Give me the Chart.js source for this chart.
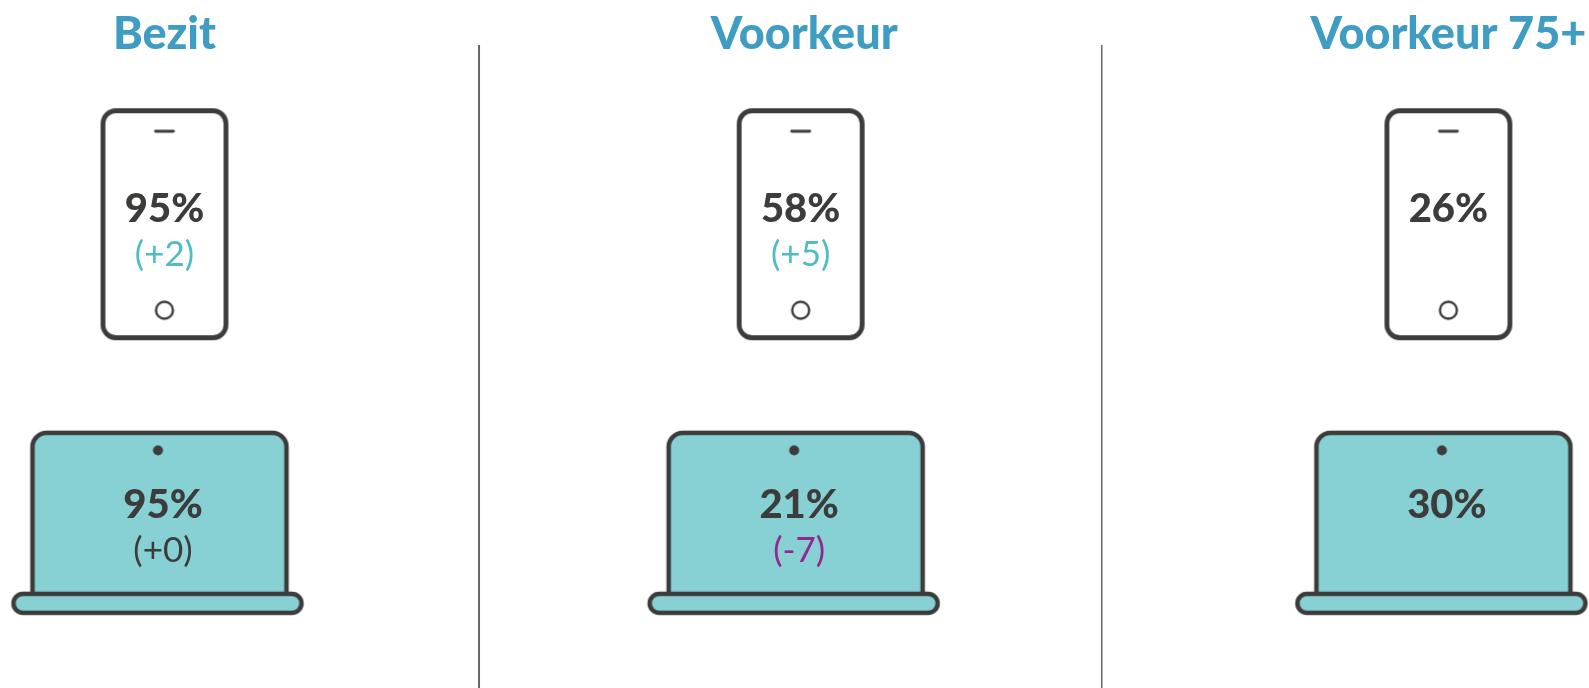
<!DOCTYPE html>
<html>
<head>
<meta charset="utf-8">
<title>Bezit en voorkeur</title>
<style>
    html, body { margin: 0; padding: 0; background: #fff; }
    canvas { display: block; }
</style>
<script src="https://cdn.jsdelivr.net/npm/chart.js@4/dist/chart.umd.min.js"></script>
</head>
<body>
<canvas id="chart" width="1589" height="688"></canvas>
<script>
// Data
var panels = ['Bezit', 'Voorkeur', 'Voorkeur 75+'];
var devices = ['Smartphone', 'Laptop'];
var phoneValues = [95, 58, 26];
var laptopValues = [95, 21, 30];
var phoneChanges = [2, 5, null];
var laptopChanges = [0, -7, null];
var dividerPanels = [0.49, 1.46];

var DARK = '#3c3c3b';
var TEAL_FILL = '#87d1d5';
var FONT = 'Lato, sans-serif';

function changeColor(v) {
    if (v > 0) return '#4dbdc3';
    if (v < 0) return '#93278f';
    return DARK;
}

function changeText(v) {
    return '(' + (v < 0 ? '-' : '+') + Math.abs(v) + ')';
}

function roundRect(ctx, x, y, w, h, r, fill) {
    ctx.beginPath();
    ctx.roundRect(x, y, w, h, r);
    if (fill) { ctx.fillStyle = fill; ctx.fill(); }
    ctx.stroke();
}

// Icons are point styles, so the library places them through the scales
function phoneIcon() {
    var c = document.createElement('canvas');
    c.width = 140; c.height = 246;
    var ctx = c.getContext('2d');
    ctx.strokeStyle = DARK;
    ctx.lineWidth = 4.8;
    roundRect(ctx, 8.5, 9.5, 123, 227, 13, '#fff');
    ctx.lineWidth = 2.8;
    ctx.lineCap = 'round';
    ctx.beginPath();
    ctx.moveTo(61, 30);
    ctx.lineTo(79, 30);
    ctx.stroke();
    ctx.lineWidth = 2.4;
    ctx.beginPath();
    ctx.arc(70, 209, 8.5, 0, Math.PI * 2);
    ctx.stroke();
    return c;
}

function laptopIcon() {
    var c = document.createElement('canvas');
    c.width = 330; c.height = 200;
    var ctx = c.getContext('2d');
    var cx = 158.5;
    ctx.strokeStyle = DARK;
    ctx.lineWidth = 4.5;
    roundRect(ctx, cx - 125.5, 10, 254, 169, [14, 14, 0, 0], TEAL_FILL);
    roundRect(ctx, cx - 144.5, 171, 288, 19, 9.5, TEAL_FILL);
    ctx.fillStyle = DARK;
    ctx.beginPath();
    ctx.arc(cx, 27.5, 5, 0, Math.PI * 2);
    ctx.fill();
    return c;
}

// Writes the percentages and the changes on top of the icons
var valueLabels = {
    id: 'valueLabels',
    afterDatasetsDraw: function (chart) {
        var ctx = chart.ctx;
        var rows = [
            { index: 0, values: phoneValues, changes: phoneChanges, dx: 0, valueDy: -2, changeDy: 42 },
            { index: 1, values: laptopValues, changes: laptopChanges, dx: -1.5, valueDy: -4.5, changeDy: 39 }
        ];
        ctx.save();
        ctx.textAlign = 'center';
        ctx.textBaseline = 'alphabetic';
        rows.forEach(function (row) {
            chart.getDatasetMeta(row.index).data.forEach(function (pt, i) {
                ctx.font = '900 40px ' + FONT;
                ctx.fillStyle = DARK;
                ctx.fillText(row.values[i] + '%', pt.x + row.dx, pt.y + row.valueDy);
                if (row.changes[i] === null) return;
                ctx.font = '35px ' + FONT;
                ctx.fillStyle = changeColor(row.changes[i]);
                ctx.fillText(changeText(row.changes[i]), pt.x + row.dx, pt.y + row.changeDy);
            });
        });
        ctx.restore();
    }
};

function devicePoints(row) {
    return panels.map(function (p, i) {
        // middle column sits slightly left of the even spacing
        return { x: i === 1 ? 0.991 : i, y: row };
    });
}

function dividerDataset(at, width) {
    return {
        type: 'line',
        data: [{ x: at, y: -0.6 }, { x: at, y: 1.553 }],
        borderColor: '#666666',
        borderWidth: width,
        pointRadius: 0,
        clip: false
    };
}

new Chart(document.getElementById('chart').getContext('2d'), {
    type: 'scatter',
    data: {
        datasets: [
            { label: devices[0], data: devicePoints(0), pointStyle: phoneIcon(), pointRadius: 3, clip: false },
            { label: devices[1], data: devicePoints(1), pointStyle: laptopIcon(), pointRadius: 3, clip: false },
            dividerDataset(dividerPanels[0], 2),
            dividerDataset(dividerPanels[1], 1.5)
        ]
    },
    options: {
        responsive: false,
        animation: false,
        events: [],
        layout: { padding: 0, autoPadding: false },
        plugins: {
            legend: { display: false },
            title: { display: false },
            tooltip: { enabled: false }
        },
        scales: {
            x: {
                type: 'linear',
                position: 'top',
                min: -0.2562,
                max: 2.219,
                grid: { display: false },
                border: { display: false },
                afterBuildTicks: function (scale) {
                    scale.ticks = panels.map(function (p, i) { return { value: i === 1 ? 0.9965 : i }; });
                },
                // a little taller than the dividers' top, labels are clipped to this box
                afterFit: function (scale) { scale.height = 52; },
                ticks: {
                    autoSkip: false,
                    maxRotation: 0,
                    padding: -17,
                    color: '#3f9cc3',
                    font: { family: FONT, size: 45, weight: '900' },
                    callback: function (value, i) { return panels[i]; }
                }
            },
            y: {
                type: 'linear',
                display: false,
                reverse: true,
                min: -0.5766,
                max: 1.553
            }
        }
    },
    plugins: [valueLabels]
});
</script>
</body>
</html>
